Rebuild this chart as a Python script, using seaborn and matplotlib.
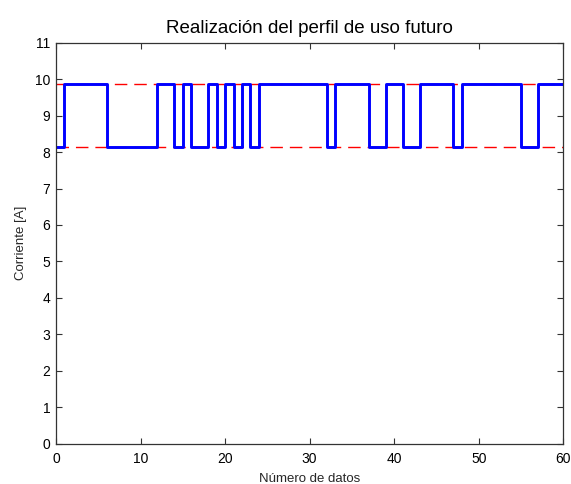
import matplotlib
matplotlib.use("Agg")
import matplotlib.pyplot as plt
import numpy as np
import pandas as pd
import seaborn as sns

# Current profile: one value per sample index (held until the next sample)
muestras = list(range(61))
corriente = [
    8.13, 9.87, 9.87, 9.87, 9.87, 9.87, 8.13, 8.13, 8.13, 8.13,
    8.13, 8.13, 9.87, 9.87, 8.13, 9.87, 8.13, 8.13, 9.87, 8.13,
    9.87, 8.13, 9.87, 8.13, 9.87, 9.87, 9.87, 9.87, 9.87, 9.87,
    9.87, 9.87, 8.13, 9.87, 9.87, 9.87, 9.87, 8.13, 8.13, 9.87,
    9.87, 8.13, 8.13, 9.87, 9.87, 9.87, 9.87, 8.13, 9.87, 9.87,
    9.87, 9.87, 9.87, 9.87, 9.87, 8.13, 8.13, 9.87, 9.87, 9.87,
    9.87,
]
# Lower and upper current levels
niveles = [8.13, 9.87]

xticks = [0, 10, 20, 30, 40, 50, 60]
yticks = list(range(0, 12))

sns.set_theme(style="white")
plt.rcParams["font.family"] = ["Liberation Sans", "DejaVu Sans"]

df = pd.DataFrame({"n": muestras, "I": corriente})

fig = plt.figure(figsize=(5.71, 4.84), dpi=100)
ax = fig.add_axes([0.098, 0.0833, 0.8885, 0.8285])

for nivel in niveles:
    ax.axhline(nivel, color="#ff0000", lw=1.0, ls=(0, (9, 5)), zorder=1)

sns.lineplot(data=df, x="n", y="I", drawstyle="steps-post",
             color="#0000ff", lw=2.1, ax=ax, zorder=2)

ax.set_xlim(0, 60)
ax.set_ylim(0, 11)
ax.set_xticks(xticks)
ax.set_yticks(yticks)
ax.tick_params(direction="in", length=4, width=0.8, colors="#333333",
               labelcolor="black", labelsize=10, top=True, right=True,
               bottom=True, left=True)
ax.tick_params(axis="x", pad=6)
ax.tick_params(axis="y", pad=4)
for s in ax.spines.values():
    s.set_color("#333333")
    s.set_linewidth(0.9)

ax.set_xlabel("Número de datos", fontsize=9.5, labelpad=5)
ax.set_ylabel("Corriente [A]", fontsize=9.5, labelpad=6)
ax.set_title("Realización del perfil de uso futuro", fontsize=13.5,
             color="black", pad=7)

fig.savefig("out.png", dpi=100, facecolor="white")
